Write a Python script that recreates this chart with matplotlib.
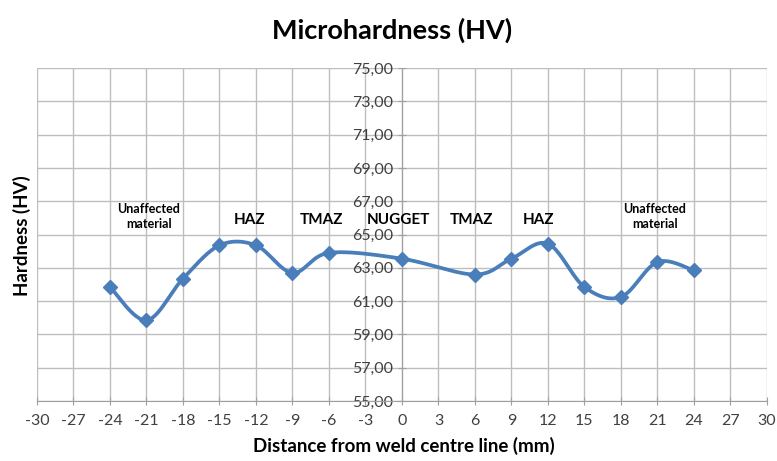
import numpy as np
import matplotlib.pyplot as plt

plt.rcParams['font.family'] = ['Lato', 'DejaVu Sans']
plt.rcParams['axes.unicode_minus'] = False

# 測定データ
distance = [-24, -21, -18, -15, -12, -9, -6, 0, 6, 9, 12, 15, 18, 21, 24]
hardness = [61.85, 59.85, 62.35, 64.35, 64.35, 62.7, 63.9, 63.55,
            62.6, 63.55, 64.45, 61.85, 61.25, 63.35, 62.85]

zone_labels = ["Unaffected\nmaterial", "HAZ", "TMAZ", "NUGGET", "TMAZ", "HAZ", "Unaffected\nmaterial"]
zone_x = [-20.8, -12.5, -6.6, -0.3, 5.7, 11.2, 20.8]
zone_y = [66.1, 65.9, 65.9, 65.9, 65.9, 65.9, 66.1]
zone_size = [9, 11, 11, 11, 11, 11, 9]


def smooth_curve(x, y, n=30):
    """Excel風のスムージング（ベジェ曲線）"""
    x = np.asarray(x, float)
    y = np.asarray(y, float)
    xs, ys = [], []
    for i in range(len(x) - 1):
        x0, y0 = (x[i - 1], y[i - 1]) if i > 0 else (x[i], y[i])
        x3, y3 = (x[i + 2], y[i + 2]) if i + 2 < len(x) else (x[i + 1], y[i + 1])
        p1 = (x[i] + (x[i + 1] - x0) / 6, y[i] + (y[i + 1] - y0) / 6)
        p2 = (x[i + 1] - (x3 - x[i]) / 6, y[i + 1] - (y3 - y[i]) / 6)
        t = np.linspace(0, 1, n)
        bx = (1 - t) ** 3 * x[i] + 3 * (1 - t) ** 2 * t * p1[0] + 3 * (1 - t) * t ** 2 * p2[0] + t ** 3 * x[i + 1]
        by = (1 - t) ** 3 * y[i] + 3 * (1 - t) ** 2 * t * p1[1] + 3 * (1 - t) * t ** 2 * p2[1] + t ** 3 * y[i + 1]
        xs.extend(bx)
        ys.extend(by)
    return xs, ys


fig = plt.figure(figsize=(7.77, 4.61), dpi=100)
ax = fig.add_axes([0.0476, 0.130, 0.9394, 0.7225])

line_color = '#4A7EBB'
sx, sy = smooth_curve(distance, hardness)
ax.plot(sx, sy, color=line_color, linewidth=2.7, zorder=3)
ax.plot(distance, hardness, linestyle='none', marker='D', markersize=7,
        color=line_color, zorder=4)

for lab, xx, yy, fs in zip(zone_labels, zone_x, zone_y, zone_size):
    ax.text(xx, yy, lab, ha='center', va='center', fontsize=fs,
            fontweight='bold', color='black', linespacing=1.3, zorder=5)

ax.set_xlim(-30, 30)
ax.set_ylim(55, 75)
ax.set_xticks(np.arange(-30, 31, 3))
ax.set_yticks(np.arange(55, 76, 2))
ax.set_yticklabels([f"{v:.2f}".replace('.', ',') for v in np.arange(55, 76, 2)])

ax.grid(True, color='#BEBEBE', linewidth=1.0, zorder=0)
ax.set_axisbelow(True)

for s in ['top', 'right']:
    ax.spines[s].set_visible(False)
ax.spines['left'].set_position(('data', 0))
ax.spines['left'].set_color('#A0A0A0')
ax.spines['bottom'].set_color('#A0A0A0')

ax.tick_params(axis='both', direction='inout', length=6, color='#A0A0A0',
               labelsize=11.5, labelcolor='#404040')
ax.tick_params(axis='x', pad=6)

fig.text(0.505, 0.935, "Microhardness (HV)", ha='center', va='center',
         fontsize=19.5, fontweight='bold')
fig.text(0.52, 0.032, "Distance from weld centre line (mm)", ha='center',
         va='center', fontsize=13.5, fontweight='bold')
fig.text(0.028, 0.488, "Hardness (HV)", ha='center', va='center',
         rotation=90, fontsize=13.5, fontweight='bold')

fig.savefig("out.png", dpi=100)
